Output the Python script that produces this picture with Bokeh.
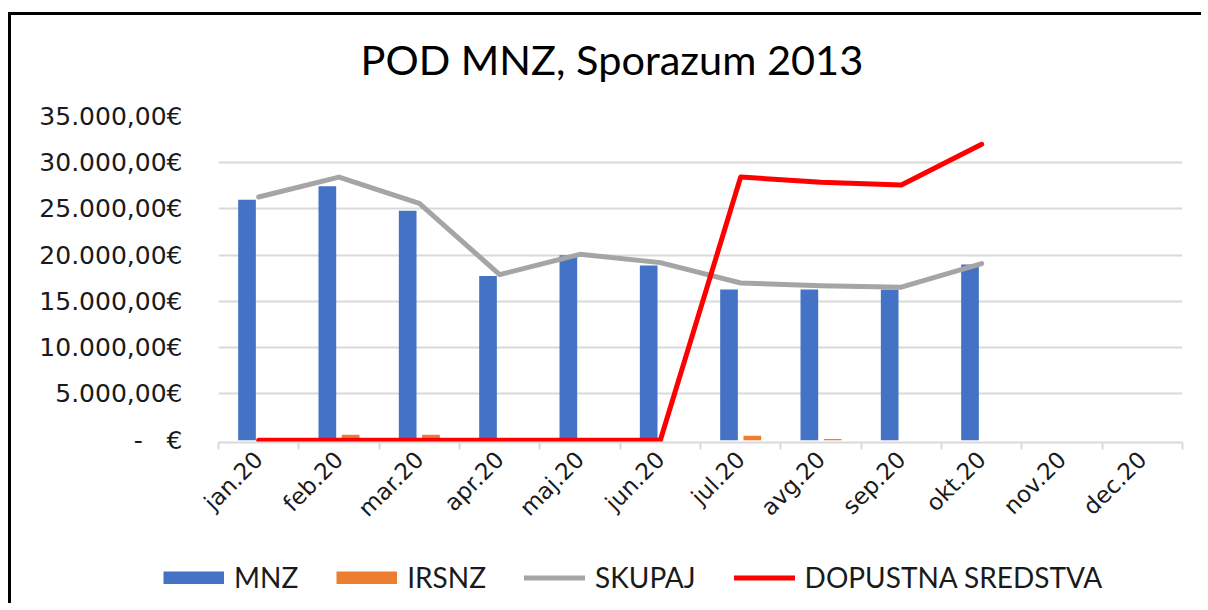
import math
from bokeh.plotting import figure
from bokeh.layouts import column
from bokeh.models import FixedTicker, Legend, LegendItem, ColumnDataSource, Label
from bokeh.transform import dodge
from bokeh.embed import file_html
from bokeh.resources import INLINE

nan = float("nan")

title_text = "POD MNZ, Sporazum 2013"
months = ["jan.20", "feb.20", "mar.20", "apr.20", "maj.20", "jun.20",
          "jul.20", "avg.20", "sep.20", "okt.20", "nov.20", "dec.20"]
mnz = [26000, 27450, 24800, 17750, 20000, 18900, 16300, 16300, 16300, 19000, nan, nan]
irsnz = [0, 600, 600, 0, 0, 0, 480, 120, 0, 0, nan, nan]
skupaj = [26300, 28450, 25600, 17900, 20100, 19200, 17000, 16700, 16550, 19100, nan, nan]
dopustna = [0, 0, 0, 0, 0, 0, 28450, 27900, 27600, 32000, nan, nan]

y_ticks = [0, 5000, 10000, 15000, 20000, 25000, 30000, 35000]
y_labels = ["-\u00a0\u00a0\u00a0€", "5.000,00€", "10.000,00€", "15.000,00€",
            "20.000,00€", "25.000,00€", "30.000,00€", "35.000,00€"]
series_names = ["MNZ", "IRSNZ", "SKUPAJ", "DOPUSTNA SREDSTVA"]
colors = ["#4472c4", "#ed7d31", "#a5a5a5", "#ff0000"]

xs = [i + 0.5 for i in range(len(months))]
src = ColumnDataSource(dict(x=xs, mnz=mnz, irsnz=irsnz, skupaj=skupaj, dop=dopustna))

W = 1190

# ---- title strip ----
p0 = figure(width=W, height=75, output_backend="svg", toolbar_location=None,
            x_range=(0, W), y_range=(0, 75), min_border=0, outline_line_color=None,
            x_axis_location=None, y_axis_location=None)
p0.frame_align = False
p0.grid.visible = False
p0.add_layout(Label(x=349, y=32, text=title_text, text_font="Lato",
                    text_font_size="41.5px", text_color="#000000",
                    text_baseline="alphabetic", text_align="left"))

# ---- main chart ----
p = figure(width=W, height=443, output_backend="svg", toolbar_location=None,
           x_range=(0, len(months)), y_range=(-250, 35000),
           min_border_left=207, min_border_right=19, min_border_top=26,
           min_border_bottom=90, outline_line_color=None)
p.frame_align = False

bar_w = 0.22
r_mnz = p.vbar(x=dodge("x", -0.145, range=p.x_range), top="mnz", width=bar_w,
               source=src, fill_color=colors[0], line_color=None)
r_irs = p.vbar(x=dodge("x", 0.145, range=p.x_range), top="irsnz", width=bar_w,
               source=src, fill_color=colors[1], line_color=None)
r_sk = p.line("x", "skupaj", source=src, line_color=colors[2], line_width=5,
              line_join="round", line_cap="round")
r_dop = p.line("x", "dop", source=src, line_color=colors[3], line_width=5,
               line_join="round", line_cap="round")

# y axis
yt = FixedTicker(ticks=y_ticks)
p.yaxis.ticker = yt
p.yaxis.major_label_overrides = {t: l for t, l in zip(y_ticks, y_labels)}
p.yaxis.axis_line_color = None
p.yaxis.major_tick_line_color = None
p.yaxis.minor_tick_line_color = None
p.yaxis.major_label_standoff = 30
p.yaxis.major_label_text_font = "DejaVu Sans"
p.yaxis.major_label_text_font_size = "25px"
p.yaxis.major_label_text_color = "#1a1a1a"
p.ygrid.ticker = FixedTicker(ticks=y_ticks[1:])
p.ygrid.grid_line_color = "#d9d9d9"
p.ygrid.grid_line_width = 2
p.xgrid.grid_line_color = None

# x axis
xt = FixedTicker(ticks=xs, minor_ticks=list(range(len(months) + 1)))
p.xaxis.ticker = xt
p.xaxis.major_label_overrides = {x: m for x, m in zip(xs, months)}
p.xaxis.major_label_orientation = math.pi / 4
p.xaxis.axis_line_color = "#d9d9d9"
p.xaxis.axis_line_width = 2
p.xaxis.major_tick_line_color = None
p.xaxis.minor_tick_line_color = "#d9d9d9"
p.xaxis.minor_tick_line_width = 2
p.xaxis.minor_tick_out = 7
p.xaxis.minor_tick_in = 0
p.xaxis.major_label_standoff = 6
p.xaxis.major_label_text_font = "DejaVu Sans"
p.xaxis.major_label_text_font_size = "23px"
p.xaxis.major_label_text_color = "#1a1a1a"

# ---- legend strip (own figure so the legend can start left of the chart frame) ----
p2 = figure(width=W, height=70, output_backend="svg", toolbar_location=None,
            x_range=(0, 1), y_range=(-80000, -40000), min_border=0,
            outline_line_color=None, x_axis_location=None, y_axis_location=None)
p2.frame_align = False
p2.grid.visible = False
# legend swatches: thick butt-capped strokes for the bar series, round strokes for lines
g_mnz = p2.line("x", "mnz", source=src, line_color=colors[0], line_width=13, line_cap="butt")
g_irs = p2.line("x", "irsnz", source=src, line_color=colors[1], line_width=13, line_cap="butt")
g_sk = p2.line("x", "skupaj", source=src, line_color=colors[2], line_width=5, line_cap="round")
g_dop = p2.line("x", "dop", source=src, line_color=colors[3], line_width=5, line_cap="round")
for g in (g_mnz, g_irs, g_sk, g_dop):
    g.visible = False

legend = Legend(items=[LegendItem(label=n, renderers=[r])
                       for n, r in zip(series_names, [g_mnz, g_irs, g_sk, g_dop])],
                orientation="horizontal", location=(152, 9),
                glyph_width=61, glyph_height=13, label_height=30,
                label_standoff=10, spacing=38, padding=0, margin=0,
                border_line_color=None, background_fill_alpha=0,
                label_text_font="Lato", label_text_font_size="28px",
                label_text_color="#1a1a1a")
p2.add_layout(legend, "center")

layout = column(p0, p, p2, spacing=0)
layout.styles = {"border-top": "3px solid black", "border-left": "3px solid black",
                 "margin-top": "12px", "margin-left": "8px"}

open("out.html", "w").write(file_html(layout, INLINE))
